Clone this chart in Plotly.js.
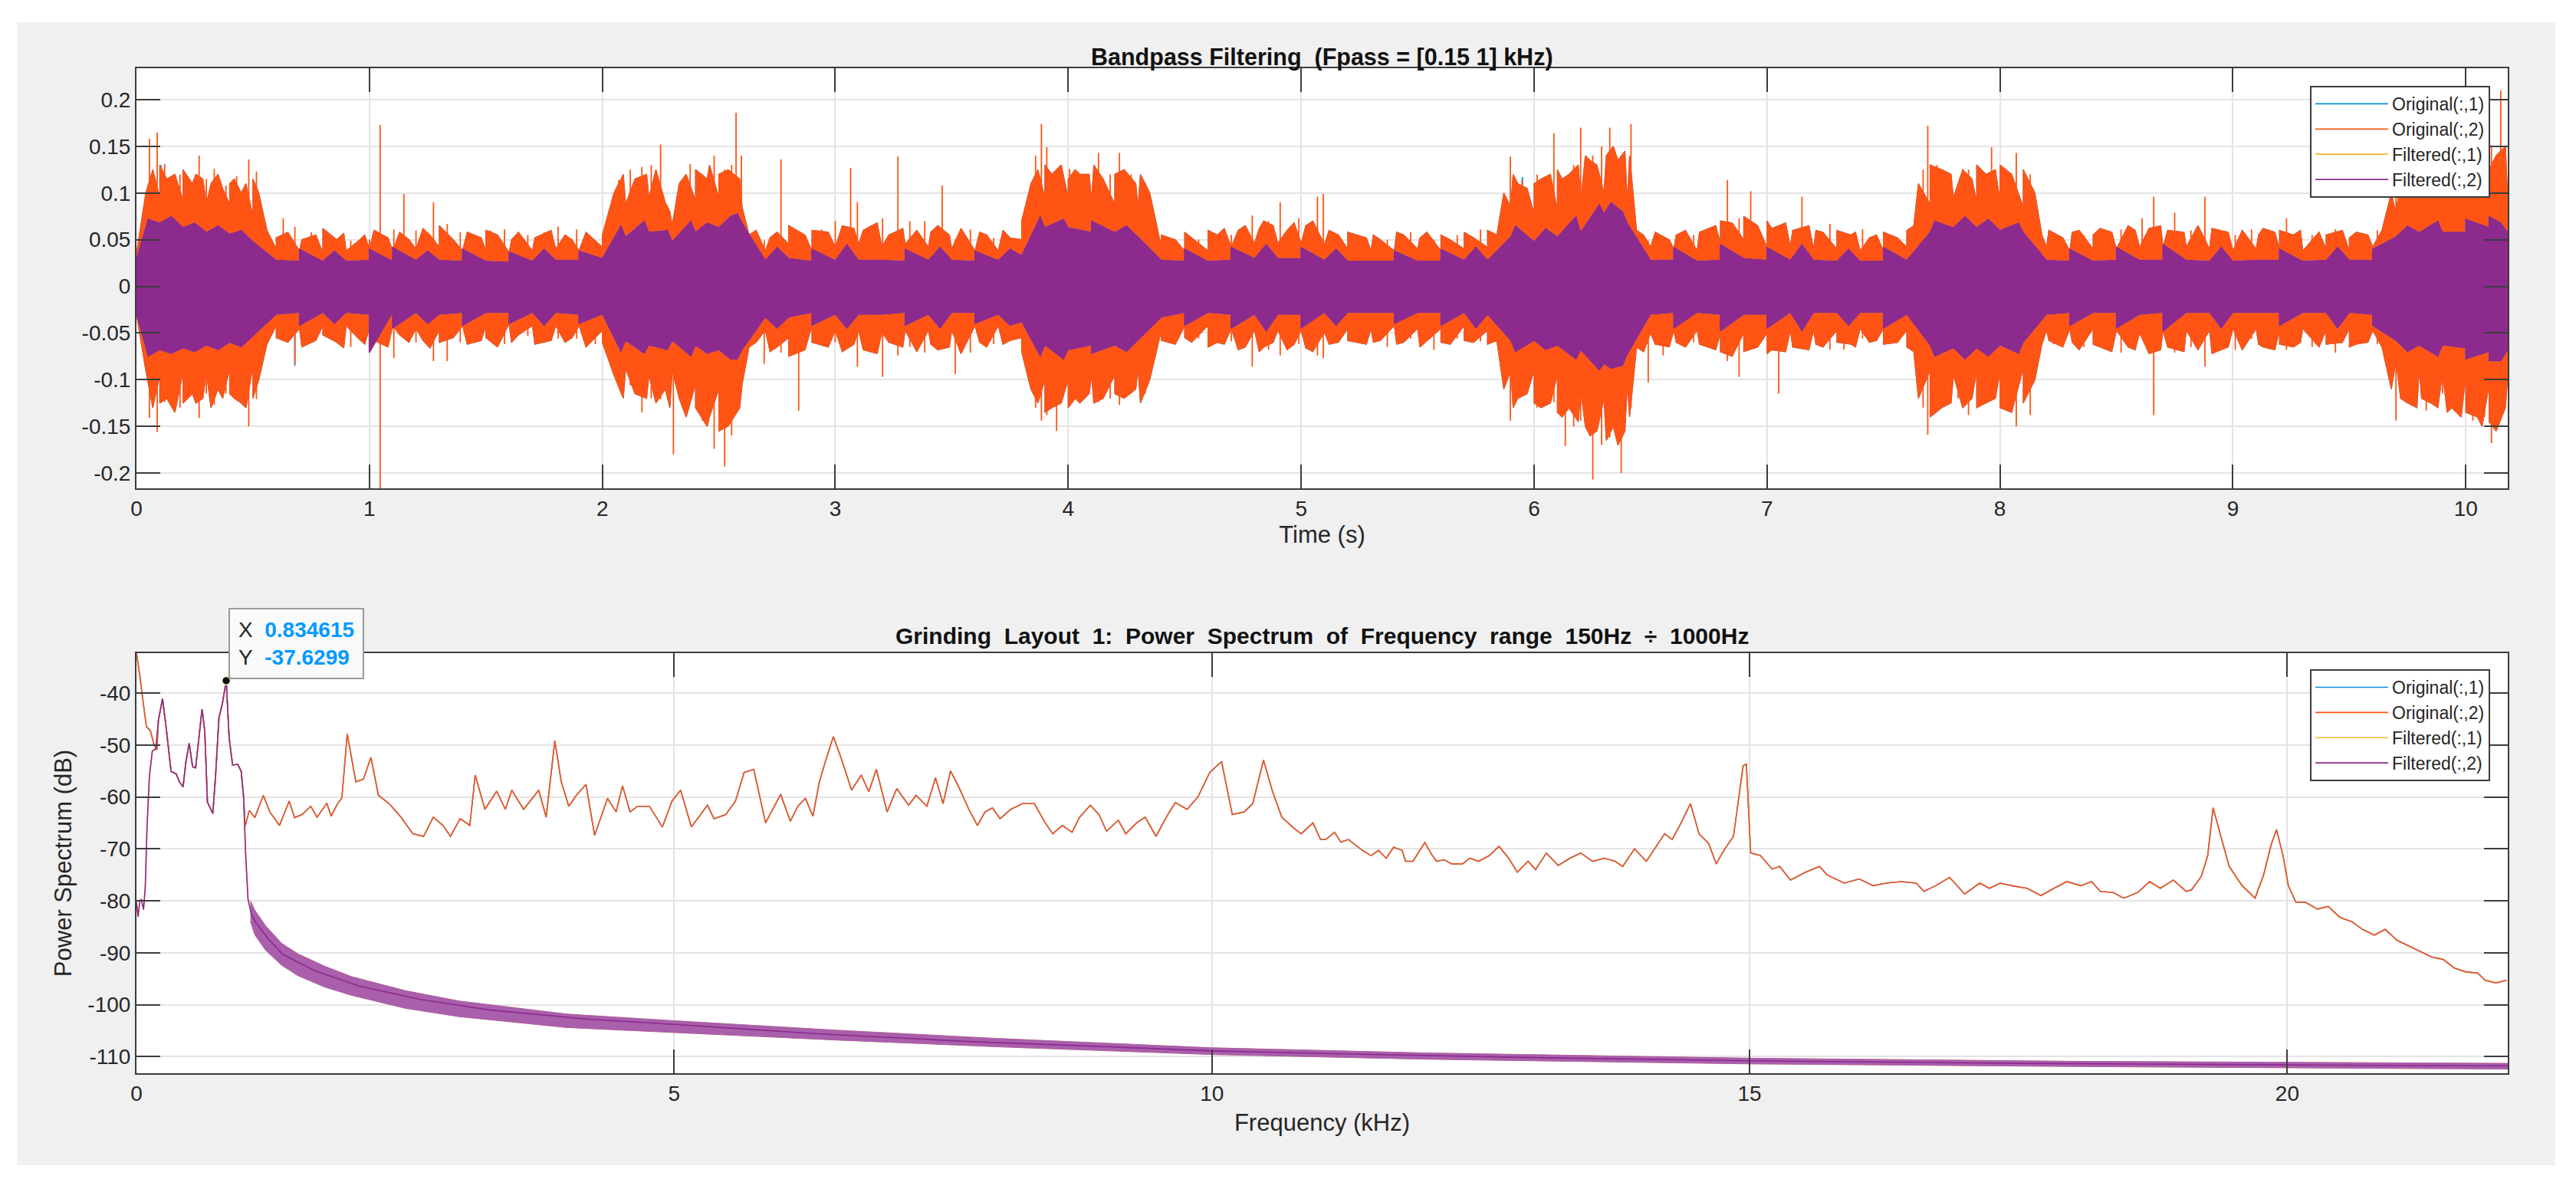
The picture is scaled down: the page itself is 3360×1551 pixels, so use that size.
<!DOCTYPE html>
<html><head><meta charset="utf-8">
<script src="https://cdn.plot.ly/plotly-3.0.1.min.js"></script>
<style>
html,body{margin:0;padding:0;background:#ffffff;width:3360px;height:1551px;overflow:hidden}
#fig{position:absolute;left:22px;top:29px;width:3311px;height:1491px}
</style>
</head><body><div id="fig"></div>
<script>
// ---------------- DATA ----------------
// Top plot: time bins (s) for the dense-core envelopes of the waveforms
const timeBins = [0,0.1,0.2,0.3,0.4,0.5,0.6,0.7,0.8,0.9,
 1.0,1.1,1.2,1.3,1.4,1.5,1.6,1.7,1.8,1.9,
 2.0,2.1,2.2,2.3,2.4,2.5,2.6,2.7,2.8,2.9,
 3.0,3.1,3.2,3.3,3.4,3.5,3.6,3.7,3.8,3.9,
 4.0,4.1,4.2,4.3,4.4,4.5,4.6,4.7,4.8,4.9,
 5.0,5.1,5.2,5.3,5.4,5.5,5.6,5.7,5.8,5.9,
 6.0,6.1,6.2,6.3,6.4,6.5,6.6,6.7,6.8,6.9,
 7.0,7.1,7.2,7.3,7.4,7.5,7.6,7.7,7.8,7.9,
 8.0,8.1,8.2,8.3,8.4,8.5,8.6,8.7,8.8,8.9,
 9.0,9.1,9.2,9.3,9.4,9.5,9.6,9.7,9.8,9.9,
 10.0,10.1,10.18];

// Original(:,2) dense core, upper / lower
const orig2Upper = [0.035,0.095,0.092,0.088,0.088,0.075,0.04,0.038,0.036,0.038,
 0.04,0.038,0.04,0.042,0.038,0.038,0.036,0.038,0.04,0.038,
 0.042,0.088,0.095,0.065,0.092,0.095,0.085,0.038,0.045,0.038,
 0.042,0.045,0.042,0.045,0.042,0.04,0.038,0.038,0.05,0.095,
 0.095,0.092,0.088,0.085,0.042,0.038,0.038,0.042,0.046,0.046,
 0.046,0.045,0.04,0.038,0.038,0.04,0.038,0.04,0.042,0.085,
 0.078,0.082,0.09,0.1,0.09,0.042,0.04,0.038,0.046,0.05,
 0.042,0.042,0.04,0.04,0.038,0.038,0.042,0.088,0.095,0.09,
 0.092,0.085,0.042,0.038,0.04,0.04,0.042,0.042,0.042,0.04,
 0.038,0.04,0.04,0.038,0.04,0.038,0.042,0.078,0.088,0.088,
 0.09,0.095,0.09];
const orig2Lower = [-0.03,-0.095,-0.092,-0.092,-0.088,-0.085,-0.042,-0.045,-0.042,-0.042,
 -0.045,-0.042,-0.045,-0.047,-0.042,-0.042,-0.04,-0.042,-0.042,-0.042,
 -0.047,-0.088,-0.095,-0.09,-0.105,-0.11,-0.105,-0.047,-0.055,-0.042,
 -0.047,-0.047,-0.049,-0.047,-0.047,-0.047,-0.042,-0.042,-0.055,-0.1,
 -0.1,-0.095,-0.095,-0.088,-0.047,-0.042,-0.042,-0.045,-0.047,-0.047,
 -0.047,-0.049,-0.045,-0.045,-0.042,-0.045,-0.045,-0.042,-0.047,-0.09,
 -0.09,-0.095,-0.11,-0.12,-0.105,-0.05,-0.047,-0.047,-0.05,-0.05,
 -0.05,-0.047,-0.047,-0.047,-0.045,-0.045,-0.047,-0.09,-0.095,-0.09,
 -0.092,-0.088,-0.047,-0.045,-0.045,-0.047,-0.05,-0.047,-0.047,-0.047,
 -0.045,-0.045,-0.047,-0.045,-0.047,-0.045,-0.047,-0.08,-0.088,-0.092,
 -0.095,-0.105,-0.095];

// Filtered(:,2) dense core, upper / lower
const filt2Upper = [0.03,0.068,0.063,0.058,0.056,0.048,0.028,0.027,0.027,0.027,
 0.028,0.027,0.028,0.028,0.027,0.027,0.026,0.027,0.028,0.028,
 0.03,0.053,0.058,0.048,0.058,0.063,0.068,0.028,0.03,0.027,
 0.028,0.028,0.028,0.027,0.028,0.028,0.027,0.028,0.033,0.063,
 0.063,0.058,0.058,0.053,0.028,0.027,0.027,0.028,0.03,0.03,
 0.03,0.028,0.027,0.027,0.027,0.027,0.027,0.028,0.028,0.053,
 0.048,0.053,0.058,0.078,0.068,0.028,0.028,0.027,0.028,0.03,
 0.028,0.028,0.028,0.027,0.027,0.027,0.028,0.058,0.063,0.063,
 0.06,0.058,0.028,0.027,0.027,0.028,0.028,0.028,0.028,0.027,
 0.027,0.028,0.028,0.027,0.028,0.028,0.028,0.053,0.058,0.058,
 0.058,0.063,0.058];
const filt2Lower = [-0.03,-0.068,-0.066,-0.063,-0.06,-0.053,-0.03,-0.028,-0.028,-0.028,
 -0.03,-0.028,-0.028,-0.03,-0.028,-0.028,-0.028,-0.028,-0.028,-0.03,
 -0.03,-0.058,-0.063,-0.058,-0.063,-0.068,-0.068,-0.033,-0.033,-0.028,
 -0.03,-0.03,-0.03,-0.028,-0.03,-0.028,-0.028,-0.03,-0.038,-0.063,
 -0.068,-0.063,-0.063,-0.058,-0.033,-0.028,-0.028,-0.03,-0.03,-0.03,
 -0.03,-0.028,-0.028,-0.028,-0.028,-0.028,-0.028,-0.028,-0.03,-0.058,
 -0.058,-0.063,-0.068,-0.083,-0.073,-0.03,-0.028,-0.028,-0.03,-0.03,
 -0.03,-0.028,-0.028,-0.028,-0.028,-0.028,-0.03,-0.063,-0.066,-0.066,
 -0.063,-0.06,-0.03,-0.028,-0.028,-0.028,-0.03,-0.028,-0.028,-0.028,
 -0.028,-0.028,-0.028,-0.028,-0.028,-0.028,-0.03,-0.058,-0.063,-0.063,
 -0.066,-0.07,-0.068];

// Original(:,2) tallest individual spikes: time, top, bottom
const orig2SpikeT = [0.056,0.089,0.121,0.15,0.187,0.22,0.269,0.30,0.334,0.384,0.43,0.482,0.515,
 0.63,0.68,0.75,0.83,0.92,1.0,1.046,1.105,1.148,1.2,1.275,1.334,1.39,1.45,1.52,1.58,1.68,1.75,1.81,1.89,1.97,
 2.07,2.12,2.17,2.21,2.25,2.305,2.345,2.377,2.43,2.48,2.525,2.555,2.574,2.597,
 2.695,2.767,2.843,2.94,3.0,3.066,3.095,3.15,3.203,3.269,3.32,3.384,3.459,3.515,3.58,3.68,3.777,
 3.86,3.885,3.908,3.95,4.006,4.07,4.13,4.18,4.22,4.27,4.33,
 4.43,4.56,4.7,4.79,4.86,4.91,4.99,5.07,5.095,5.24,5.37,5.47,5.57,5.67,5.77,
 5.898,5.948,6.013,6.05,6.085,6.134,6.17,6.2,6.252,6.29,6.325,6.374,6.416,
 6.49,6.554,6.685,6.75,6.83,6.88,6.93,7.05,7.15,7.27,7.33,7.41,7.52,
 7.67,7.69,7.73,7.77,7.82,7.865,7.92,7.964,8.03,8.07,8.13,
 8.23,8.36,8.45,8.52,8.61,8.66,8.75,8.82,8.88,8.95,9.01,9.08,9.15,9.23,9.34,9.44,9.55,9.62,
 9.70,9.77,9.83,9.90,9.96,10.03,10.08,10.11,10.15];
const orig2SpikeHi = [0.158,0.165,0.131,0.115,0.12,0.118,0.14,0.115,0.126,0.108,0.118,0.136,0.123,
 0.073,0.064,0.058,0.055,0.049,0.05,0.173,0.061,0.099,0.06,0.09,0.067,0.058,0.055,0.06,0.061,0.055,0.058,0.064,0.061,0.043,
 0.114,0.125,0.128,0.13,0.152,0.073,0.1,0.131,0.12,0.14,0.125,0.13,0.186,0.14,
 0.049,0.136,0.05,0.061,0.07,0.127,0.09,0.065,0.073,0.139,0.07,0.07,0.108,0.05,0.061,0.052,0.035,
 0.14,0.174,0.149,0.114,0.126,0.114,0.143,0.12,0.143,0.12,0.111,
 0.052,0.05,0.055,0.076,0.07,0.09,0.073,0.096,0.099,0.055,0.05,0.058,0.05,0.055,0.061,
 0.139,0.114,0.12,0.11,0.164,0.105,0.13,0.17,0.14,0.15,0.17,0.134,0.174,
 0.049,0.052,0.055,0.06,0.114,0.073,0.102,0.061,0.096,0.067,0.05,0.061,0.055,
 0.125,0.172,0.13,0.12,0.11,0.125,0.12,0.149,0.12,0.143,0.12,
 0.05,0.055,0.06,0.061,0.073,0.096,0.079,0.06,0.096,0.06,0.055,0.061,0.06,0.073,0.055,0.061,0.055,0.06,
 0.12,0.149,0.12,0.137,0.115,0.125,0.13,0.149,0.21];
const orig2SpikeLo = [-0.141,-0.156,-0.124,-0.118,-0.13,-0.12,-0.141,-0.115,-0.127,-0.115,-0.11,-0.15,-0.121,
 -0.056,-0.083,-0.06,-0.056,-0.065,-0.068,-0.25,-0.077,-0.056,-0.06,-0.08,-0.08,-0.06,-0.056,-0.058,-0.062,-0.053,-0.06,-0.056,-0.056,-0.062,
 -0.1,-0.106,-0.135,-0.12,-0.121,-0.18,-0.13,-0.121,-0.144,-0.174,-0.193,-0.16,-0.115,-0.1,
 -0.083,-0.071,-0.133,-0.056,-0.06,-0.06,-0.086,-0.07,-0.097,-0.074,-0.065,-0.071,-0.056,-0.094,-0.071,-0.062,-0.056,
 -0.13,-0.144,-0.138,-0.155,-0.124,-0.115,-0.124,-0.12,-0.127,-0.115,-0.115,
 -0.05,-0.056,-0.059,-0.086,-0.068,-0.074,-0.062,-0.074,-0.077,-0.056,-0.065,-0.056,-0.068,-0.056,-0.059,
 -0.144,-0.115,-0.13,-0.12,-0.124,-0.171,-0.15,-0.144,-0.207,-0.17,-0.162,-0.2,-0.13,
 -0.103,-0.074,-0.06,-0.06,-0.08,-0.097,-0.056,-0.115,-0.056,-0.068,-0.068,-0.056,-0.059,
 -0.13,-0.159,-0.12,-0.115,-0.12,-0.138,-0.12,-0.115,-0.13,-0.15,-0.138,
 -0.062,-0.065,-0.06,-0.071,-0.056,-0.138,-0.071,-0.065,-0.086,-0.062,-0.068,-0.056,-0.06,-0.068,-0.065,-0.071,-0.059,-0.062,
 -0.144,-0.121,-0.133,-0.115,-0.13,-0.144,-0.14,-0.168,-0.12];

// Original(:,2) local peaks of the ragged fringe around the core: time, top, bottom
const orig2HairT = [0.04,0.07,0.1,0.13,0.165,0.2,0.24,0.255,0.285,0.32,0.35,0.37,0.4,0.42,0.45,0.47,0.5,0.525,
 0.56,0.6,0.65,0.71,0.77,0.8,0.86,0.89,0.95,0.98,1.02,1.08,1.13,1.17,1.23,1.26,1.3,1.36,1.42,1.48,1.5,1.55,1.61,1.64,1.71,1.78,1.84,1.87,1.93,2.0,
 2.05,2.09,2.14,2.19,2.23,2.27,2.29,2.33,2.36,2.4,2.45,2.46,2.5,2.54,2.59,
 2.63,2.66,2.72,2.75,2.8,2.87,2.9,2.97,3.03,3.08,3.12,3.18,3.23,3.29,3.35,3.41,3.44,3.49,3.54,3.62,3.65,3.72,3.75,3.8,
 3.84,3.87,3.9,3.93,3.97,4.0,4.03,4.05,4.09,4.11,4.15,4.2,4.24,4.29,4.31,4.35,
 4.4,4.46,4.5,4.53,4.6,4.64,4.67,4.73,4.76,4.82,4.84,4.88,4.94,4.97,5.02,5.05,5.12,5.16,5.2,5.28,5.31,5.34,5.41,5.44,5.51,5.54,5.6,5.64,5.7,5.74,5.8,5.84,
 5.87,5.91,5.93,5.97,6.0,6.03,6.07,6.1,6.12,6.15,6.19,6.22,6.24,6.27,6.31,6.34,6.36,6.39,6.41,
 6.44,6.47,6.52,6.58,6.61,6.65,6.71,6.78,6.8,6.85,6.9,6.96,7.0,7.02,7.08,7.11,7.18,7.21,7.24,7.3,7.36,7.38,7.44,7.47,7.5,7.56,7.6,7.63,
 7.65,7.7,7.75,7.79,7.84,7.88,7.9,7.94,7.98,8.0,8.05,8.1,8.15,
 8.18,8.21,8.27,8.31,8.34,8.4,8.43,8.48,8.55,8.58,8.64,8.69,8.72,8.79,8.85,8.91,8.98,9.04,9.11,9.13,9.18,9.2,9.26,9.29,9.37,9.4,9.47,9.5,9.53,9.58,9.64,
 9.68,9.72,9.75,9.79,9.81,9.85,9.88,9.92,9.94,9.98,10.0,10.05,10.07,10.1,10.13,10.17];
const orig2HairHi = [0.1,0.125,0.13,0.115,0.12,0.125,0.11,0.12,0.115,0.11,0.12,0.105,0.11,0.115,0.1,0.11,0.115,0.1,
 0.06,0.052,0.058,0.05,0.055,0.062,0.05,0.057,0.048,0.055,0.06,0.052,0.058,0.05,0.062,0.055,0.065,0.05,0.058,0.052,0.06,0.055,0.05,0.058,0.052,0.06,0.055,0.05,0.058,0.055,
 0.1,0.12,0.115,0.12,0.125,0.09,0.08,0.11,0.12,0.125,0.115,0.13,0.12,0.125,0.115,
 0.055,0.06,0.052,0.058,0.065,0.055,0.06,0.058,0.065,0.062,0.06,0.068,0.055,0.062,0.06,0.058,0.065,0.055,0.062,0.058,0.055,0.06,0.052,0.07,
 0.11,0.125,0.13,0.12,0.13,0.115,0.125,0.12,0.12,0.13,0.115,0.12,0.125,0.11,0.12,0.1,
 0.055,0.05,0.058,0.052,0.06,0.055,0.062,0.06,0.065,0.062,0.07,0.065,0.06,0.068,0.065,0.07,0.06,0.055,0.058,0.052,0.055,0.05,0.058,0.055,0.052,0.058,0.055,0.05,0.058,0.052,0.06,0.055,
 0.1,0.12,0.11,0.105,0.11,0.115,0.12,0.125,0.115,0.12,0.13,0.14,0.135,0.13,0.14,0.15,0.135,0.145,0.14,
 0.06,0.055,0.058,0.05,0.055,0.06,0.058,0.065,0.07,0.068,0.075,0.065,0.07,0.062,0.068,0.06,0.065,0.06,0.058,0.06,0.055,0.058,0.052,0.055,0.058,0.052,0.06,0.065,
 0.11,0.13,0.125,0.12,0.125,0.115,0.13,0.12,0.125,0.13,0.12,0.125,0.1,
 0.055,0.06,0.052,0.058,0.06,0.055,0.062,0.058,0.065,0.06,0.062,0.065,0.06,0.058,0.065,0.062,0.058,0.06,0.055,0.062,0.058,0.06,0.055,0.06,0.058,0.055,0.06,0.052,0.058,0.055,0.06,
 0.1,0.115,0.12,0.125,0.115,0.12,0.125,0.13,0.12,0.125,0.13,0.12,0.135,0.125,0.14,0.15];
const orig2HairLo = [-0.09,-0.13,-0.125,-0.12,-0.135,-0.125,-0.115,-0.125,-0.12,-0.13,-0.11,-0.12,-0.115,-0.12,-0.125,-0.13,-0.12,-0.1,
 -0.062,-0.055,-0.06,-0.065,-0.058,-0.052,-0.06,-0.066,-0.055,-0.062,-0.058,-0.065,-0.052,-0.06,-0.058,-0.066,-0.06,-0.055,-0.062,-0.058,-0.055,-0.065,-0.06,-0.052,-0.062,-0.058,-0.06,-0.055,-0.065,-0.06,
 -0.095,-0.12,-0.115,-0.12,-0.125,-0.11,-0.13,-0.12,-0.14,-0.13,-0.15,-0.14,-0.155,-0.15,-0.13,
 -0.065,-0.06,-0.07,-0.065,-0.075,-0.068,-0.06,-0.065,-0.07,-0.062,-0.068,-0.072,-0.06,-0.065,-0.07,-0.062,-0.068,-0.065,-0.072,-0.06,-0.065,-0.062,-0.058,-0.07,
 -0.11,-0.125,-0.135,-0.13,-0.125,-0.13,-0.12,-0.125,-0.115,-0.125,-0.12,-0.115,-0.12,-0.11,-0.125,-0.1,
 -0.058,-0.062,-0.055,-0.06,-0.065,-0.06,-0.062,-0.068,-0.065,-0.07,-0.065,-0.06,-0.068,-0.062,-0.066,-0.07,-0.062,-0.06,-0.058,-0.062,-0.06,-0.058,-0.062,-0.06,-0.065,-0.058,-0.06,-0.062,-0.058,-0.06,-0.062,-0.058,
 -0.11,-0.13,-0.12,-0.115,-0.125,-0.13,-0.125,-0.135,-0.14,-0.13,-0.145,-0.15,-0.16,-0.155,-0.165,-0.15,-0.17,-0.155,-0.14,
 -0.065,-0.07,-0.062,-0.065,-0.06,-0.065,-0.062,-0.068,-0.07,-0.075,-0.07,-0.065,-0.072,-0.068,-0.07,-0.065,-0.068,-0.062,-0.065,-0.06,-0.062,-0.065,-0.06,-0.058,-0.062,-0.06,-0.065,-0.07,
 -0.12,-0.14,-0.13,-0.125,-0.13,-0.12,-0.13,-0.125,-0.12,-0.13,-0.135,-0.125,-0.1,
 -0.062,-0.058,-0.065,-0.06,-0.068,-0.062,-0.065,-0.07,-0.065,-0.068,-0.072,-0.068,-0.065,-0.07,-0.068,-0.072,-0.065,-0.068,-0.062,-0.065,-0.068,-0.062,-0.065,-0.06,-0.065,-0.062,-0.06,-0.065,-0.062,-0.06,-0.065,
 -0.11,-0.12,-0.125,-0.13,-0.12,-0.125,-0.13,-0.135,-0.13,-0.14,-0.135,-0.14,-0.15,-0.145,-0.155,-0.13];

// Original(:,1): spikes visible past the channel-2 trace (its core lies under channel 2)
const orig1SpikeT  = [0.105,0.68,4.33,5.95,8.86];
const orig1SpikeHi = [0.13,0.04,0.111,0.117,0.04];
const orig1SpikeLo = [-0.05,-0.085,-0.04,-0.05,-0.06];

// Filtered(:,2) local peaks beyond its core
const filt2SpikeT = [0.05,0.15,0.25,0.35,0.45, 0.7,0.85,1.0,1.1,1.25,1.4,1.6,1.75,1.9,
 2.08,2.18,2.28,2.38,2.45,2.55,2.58, 2.75,2.9,3.05,3.3,3.45,3.6,3.75,
 3.88,3.98,4.1,4.25, 4.5,4.7,4.85,5.0,5.15,5.4,5.6,5.75,
 5.92,6.05,6.18,6.28,6.33,6.38, 6.6,6.8,7.0,7.15,7.35,7.5,
 7.72,7.85,7.95,8.08, 8.3,8.5,8.7,8.95,9.2,9.45,9.6, 9.75,9.88,10.0,10.1,10.15];
const filt2SpikeHi = [0.072,0.075,0.068,0.065,0.06, 0.04,0.038,0.04,0.042,0.038,0.04,0.037,0.04,0.038,
 0.065,0.07,0.06,0.07,0.068,0.075,0.078, 0.042,0.04,0.045,0.04,0.042,0.038,0.04,
 0.075,0.072,0.07,0.065, 0.04,0.042,0.045,0.042,0.04,0.038,0.04,0.042,
 0.065,0.062,0.075,0.088,0.09,0.08, 0.042,0.045,0.042,0.045,0.04,0.042,
 0.07,0.075,0.072,0.068, 0.04,0.042,0.045,0.042,0.04,0.042,0.04, 0.065,0.07,0.072,0.075,0.068];
const filt2SpikeLo = [-0.075,-0.072,-0.07,-0.068,-0.065, -0.042,-0.04,-0.071,-0.045,-0.04,-0.042,-0.04,-0.042,-0.04,
 -0.07,-0.072,-0.068,-0.075,-0.072,-0.078,-0.078, -0.045,-0.042,-0.045,-0.042,-0.045,-0.04,-0.042,
 -0.075,-0.078,-0.072,-0.07, -0.042,-0.045,-0.048,-0.045,-0.042,-0.04,-0.042,-0.045,
 -0.07,-0.068,-0.078,-0.09,-0.088,-0.085, -0.045,-0.048,-0.045,-0.048,-0.042,-0.045,
 -0.075,-0.078,-0.075,-0.072, -0.042,-0.045,-0.048,-0.045,-0.042,-0.045,-0.042, -0.07,-0.075,-0.078,-0.08,-0.08];

// Bottom plot: power spectrum of Original(:,2) (kHz, dB)
const specFreqOrig = [0,0.03,0.066,0.093,0.13,0.16,0.19,0.204,0.242,0.274,0.322,0.37,0.40,0.433,0.46,0.49,0.522,0.55,0.58,0.61,0.635,0.66,0.71,0.735,0.767,0.80,0.834615,0.862,0.894,0.942,0.974,0.996,
 1.01,1.05,1.1,1.18,1.24,1.33,1.42,1.47,1.54,1.62,1.68,1.77,1.81,1.87,1.91,1.96,2.04,2.11,2.18,2.25,2.35,2.46,2.57,2.67,2.76,2.85,2.92,3.01,3.1,3.15,3.24,3.35,3.43,3.49,3.6,3.74,3.81,3.89,3.95,
 4.02,4.09,4.18,4.26,4.38,4.46,4.52,4.59,4.66,4.77,4.89,4.98,5.06,5.16,5.31,5.37,5.48,5.57,5.65,5.74,5.85,5.99,6.08,6.15,6.22,6.29,6.35,6.41,6.48,6.55,6.65,6.74,6.81,6.88,6.98,
 7.07,7.18,7.25,7.35,7.43,7.5,7.57,7.66,7.74,7.82,7.89,7.96,8.03,8.13,8.24,8.35,8.45,8.52,8.61,8.70,8.77,8.87,8.95,9.02,9.13,9.2,9.3,9.38,9.48,9.59,9.66,9.77,9.87,9.98,
 10.09,10.19,10.3,10.38,10.48,10.56,10.65,10.76,10.83,10.94,11.01,11.06,11.14,11.2,11.27,11.4,11.48,11.55,11.62,11.69,11.77,11.8,11.87,11.98,12.05,12.09,12.16,12.23,12.33,12.4,12.48,12.58,12.67,12.76,12.84,12.94,
 13.01,13.11,13.22,13.33,13.43,13.54,13.65,13.75,13.82,13.93,14.04,14.14,14.21,14.28,14.35,14.45,14.53,14.62,14.69,14.76,14.85,14.94,14.97,15.01,15.1,15.21,15.28,15.38,15.52,15.65,15.72,15.88,
 16.02,16.15,16.27,16.41,16.55,16.62,16.73,16.86,17.0,17.14,17.23,17.33,17.44,17.58,17.71,17.83,17.95,18.08,18.18,18.26,18.38,18.48,18.61,18.72,18.82,18.94,19.06,19.11,19.2,19.26,19.31,19.39,19.46,19.58,19.7,19.78,19.85,19.9,19.96,
 20.01,20.08,20.17,20.28,20.38,20.49,20.6,20.7,20.81,20.91,21.02,21.13,21.23,21.34,21.45,21.55,21.66,21.77,21.84,21.94,22.04];
const specDbOrig = [-32.3,-36.5,-42.4,-46.5,-47.3,-49.7,-51.0,-45.3,-41.1,-46.3,-55.1,-55.6,-57.1,-58.1,-53.2,-49.7,-54.2,-54.4,-48.7,-43.1,-47.3,-61,-63.2,-56.1,-44.8,-41.9,-37.6299,-48.7,-53.9,-53.7,-55.1,-60.0,
 -65.6,-62.6,-64,-59.7,-62.9,-65.5,-60.8,-64,-63.4,-61.8,-63.9,-61.2,-63.7,-61.3,-60.2,-47.9,-57.1,-56.6,-52.4,-59.7,-61.3,-63.9,-67.1,-67.6,-63.9,-65.5,-67.6,-64.2,-65.5,-55.8,-62.4,-58.9,-62.4,-58.7,-62.4,-58.7,-63.9,-49.2,-57.1,
 -61.8,-59.7,-57.6,-67.4,-60.3,-62.9,-57.9,-62.9,-61.8,-61.8,-65.8,-60.8,-58.7,-65.8,-61.6,-64.2,-63.4,-60.8,-55.3,-54.7,-65.0,-59.5,-64.7,-61.8,-60.3,-63.7,-57.1,-52.9,-48.4,-52.4,-58.7,-55.8,-59,-54.7,-62.9,
 -58.4,-61.6,-59.7,-61.8,-56.3,-61.3,-55,-58.7,-62.4,-65.5,-62.9,-62.1,-64.2,-62.4,-61.3,-61.3,-65,-67.1,-65.5,-66.8,-63.9,-61.6,-63.4,-66.6,-64.5,-67.1,-65,-63.9,-67.6,-63.4,-61.1,-62.4,-60,-55.3,
 -53.2,-63.4,-62.9,-61.3,-52.9,-58.7,-63.9,-66,-67.1,-65,-68.2,-68.2,-66.8,-68.7,-68.2,-70.3,-71.3,-70.3,-71.8,-69.7,-70.3,-72.4,-72.4,-68.8,-71.3,-72.4,-72.1,-72.9,-72.9,-71.8,-72.4,-71.3,-69.5,-71.8,-74.5,-72.4,
 -74,-70.8,-73.2,-71.8,-70.8,-72.4,-71.8,-72.4,-73.4,-70,-72.4,-69.2,-67.1,-68.2,-65.5,-61.3,-67.1,-69,-72.9,-70.3,-67.6,-54,-53.7,-70.8,-71.3,-73.9,-73.4,-76,-74.5,-73.4,-75,-76.6,
 -75.8,-77.1,-76.6,-76.3,-76.6,-78.2,-77.1,-75.5,-78.7,-76.6,-77.6,-76.6,-77.1,-77.6,-79,-77.6,-76.3,-77.1,-76.3,-78.2,-78.4,-79.5,-78.4,-76.3,-77.6,-76,-78.2,-77.9,-75.3,-71.3,-62.1,-68.2,-73.4,-77.1,-79.5,-75,-69.2,-66.3,-71.3,
 -77.1,-80.3,-80.3,-81.6,-81.1,-83.2,-84,-85.5,-86.6,-85.5,-87.6,-88.7,-89.7,-90.8,-91.3,-92.9,-93.7,-93.9,-95.3,-95.8,-95.3];

// Power spectrum of Filtered(:,2)
const specFreqFilt = [0,0.015,0.03,0.045,0.066,0.082,0.098,0.12,0.147,0.18,0.204,0.242,0.274,0.322,0.37,0.40,0.433,0.46,0.49,0.522,0.55,0.58,0.61,0.635,0.66,0.71,0.735,0.767,0.80,0.834615,0.862,0.894,0.942,0.974,0.996,
 1.015,1.037,1.07,1.11,1.22,1.36,1.65,2.07,2.64,3.28,4.2,5.0,6.33,7.74,9.16,10.0,11.06,13.0,15.0,17.5,20.0,22.05];
const specDbFilt = [-80.2,-83.1,-80.2,-79.7,-81.7,-77.2,-65.9,-56.1,-51.2,-50.7,-45.3,-41.1,-46.3,-55.1,-55.6,-57.1,-58.1,-53.2,-49.7,-54.2,-54.4,-48.7,-43.1,-47.3,-61,-63.2,-56.1,-44.8,-41.9,-37.6299,-48.7,-53.9,-53.7,-55.1,-60.0,
 -70.9,-79.7,-82.7,-84.2,-87.2,-90.3,-93.4,-96.4,-99.0,-101.0,-102.8,-103.8,-105.6,-107.1,-108.2,-108.9,-109.4,-110.2,-110.8,-111.3,-111.6,-111.8];
// ripple envelope of the filtered stop band (upper / lower edge)
const rippleFreq = [1.06,1.1,1.2,1.35,1.5,1.75,2.0,2.5,3.0,4.0,5.0,6.5,8.0,10.0,12.0,15.0,18.0,20.0,22.05];
const rippleHi = [-80,-81.8,-84.8,-88.2,-90.2,-92.6,-94.6,-97.3,-99.3,-101.8,-103.1,-104.9,-106.5,-108.3,-109.3,-110.3,-110.9,-111.1,-111.3];
const rippleLo = [-84,-86.5,-89.5,-92.4,-94.4,-96.6,-98.2,-100.7,-102.3,-104.4,-105.4,-106.8,-108.1,-109.6,-110.5,-111.4,-111.9,-112.2,-112.4];

// Data tip
const tipX = [0.834615];
const tipY = [-37.6299];

// Tick labels
const timeTicks = [0,1,2,3,4,5,6,7,8,9,10];
const timeTickText = ['0','1','2','3','4','5','6','7','8','9','10'];
const ampTicks = [-0.2,-0.15,-0.1,-0.05,0,0.05,0.1,0.15,0.2];
const ampTickText = ['-0.2','-0.15','-0.1','-0.05','0','0.05','0.1','0.15','0.2'];
const freqTicks = [0,5,10,15,20];
const freqTickText = ['0','5','10','15','20'];
const dbTicks = [-110,-100,-90,-80,-70,-60,-50,-40];
const dbTickText = ['-110','-100','-90','-80','-70','-60','-50','-40'];

const seriesNames = ['Original(:,1)','Original(:,2)','Filtered(:,1)','Filtered(:,2)'];
const seriesColors = ['#0a8fdc','#ff5414','#ffb52e','#8c2a8e'];
const rippleColors = ['#ffcf70','#a95fac'];

// ---------------- helpers ----------------
function spikes(ts, his, los){ const x=[],y=[]; for(let i=0;i<ts.length;i++){x.push(ts[i],ts[i],null);y.push(his[i],los[i],null);} return {x,y}; }
function band(xs, hi, lo){ return {x: xs.concat(xs.slice().reverse()), y: hi.concat(lo.slice().reverse())}; }
// merge two sets of read envelope points (core bins + local peaks), ordered by time
function merged(t1, v1, t2, v2){
  const p = t1.map((t,i)=>[t,v1[i]]).concat(t2.map((t,i)=>[t,v2[i]]));
  p.sort((a,b)=>a[0]-b[0]);
  return {t:p.map(q=>q[0]), v:p.map(q=>q[1])};
}
function raggedBand(tc, up, lo, tp, pu, pl){
  const U = merged(tc, up, tp, pu), L = merged(tc, lo, tp, pl);
  return {x: U.t.concat(L.t.slice().reverse()), y: U.v.concat(L.v.slice().reverse())};
}

const FONT = 'Liberation Sans, Arial, Helvetica, sans-serif';
const traces = [];

function coreTrace(b, color, grp){
  return {type:'scatter', mode:'lines', x:b.x, y:b.y, fill:'toself', fillcolor:color,
    line:{color:color, width:1.2}, hoverinfo:'skip', showlegend:false, legendgroup:grp, xaxis:'x', yaxis:'y'};
}
function strandTrace(s, color, name, grp, show, w){
  return {type:'scatter', mode:'lines', x:s.x, y:s.y, connectgaps:false, name:name,
    line:{color:color, width:w}, hoverinfo:'skip', legendgroup:grp, showlegend:show, legend:'legend', xaxis:'x', yaxis:'y'};
}
// top plot (channel 1 core coincides with channel 2 core in the picture)
const origCore = raggedBand(timeBins, orig2Upper, orig2Lower, orig2HairT, orig2HairHi, orig2HairLo);
const filtCore = raggedBand(timeBins, filt2Upper, filt2Lower, filt2SpikeT, filt2SpikeHi, filt2SpikeLo);
const filtStr = spikes(filt2SpikeT, filt2SpikeHi, filt2SpikeLo);
traces.push(coreTrace(origCore, seriesColors[0], 'o1'));
traces.push(strandTrace(spikes(orig1SpikeT, orig1SpikeHi, orig1SpikeLo), seriesColors[0], seriesNames[0], 'o1', true, 1.8));
traces.push(coreTrace(origCore, seriesColors[1], 'o2'));
traces.push(strandTrace(spikes(orig2SpikeT, orig2SpikeHi, orig2SpikeLo), seriesColors[1], seriesNames[1], 'o2', true, 1.8));
traces.push(coreTrace(filtCore, seriesColors[2], 'f1'));
traces.push(strandTrace(filtStr, seriesColors[2], seriesNames[2], 'f1', true, 1.8));
traces.push(coreTrace(filtCore, seriesColors[3], 'f2'));
traces.push(strandTrace(filtStr, seriesColors[3], seriesNames[3], 'f2', true, 1.8));

// bottom plot
const ripple = band(rippleFreq, rippleHi, rippleLo);
function specLine(x, y, color, name, grp, w){
  return {type:'scatter', mode:'lines', x:x, y:y, name:name, line:{color:color, width:w},
    hoverinfo:'skip', legendgroup:grp, legend:'legend2', xaxis:'x2', yaxis:'y2'};
}
function rippleTrace(color, grp){
  return {type:'scatter', mode:'lines', x:ripple.x, y:ripple.y, fill:'toself', fillcolor:color,
    line:{color:color, width:1}, hoverinfo:'skip', showlegend:false, legendgroup:grp, xaxis:'x2', yaxis:'y2'};
}
traces.push(specLine(specFreqOrig, specDbOrig, seriesColors[0], seriesNames[0], 'b1', 1.6));
traces.push(specLine(specFreqOrig, specDbOrig, seriesColors[1], seriesNames[1], 'b2', 1.6));
traces.push(rippleTrace(rippleColors[0], 'b3'));
traces.push(specLine(specFreqFilt, specDbFilt, seriesColors[2], seriesNames[2], 'b3', 1.6));
traces.push(rippleTrace(rippleColors[1], 'b4'));
traces.push(specLine(specFreqFilt, specDbFilt, seriesColors[3], seriesNames[3], 'b4', 1.6));
traces.push({type:'scatter', mode:'markers', x:tipX, y:tipY, showlegend:false, hoverinfo:'skip',
  marker:{size:11, color:'#111111', line:{color:'#ffffc8', width:1.5}}, xaxis:'x2', yaxis:'y2'});

const axBase = {
  showline:true, linecolor:'#3c3c3c', linewidth:2, mirror:'allticks',
  ticks:'inside', ticklen:31, tickwidth:2, tickcolor:'#3c3c3c',
  showgrid:true, gridcolor:'#e4e4e4', gridwidth:2, zeroline:false,
  tickfont:{family:FONT, size:28, color:'#262626'}, fixedrange:true
};
const legBase = {xanchor:'left', yanchor:'top', bgcolor:'#ffffff', bordercolor:'#3c3c3c', borderwidth:2,
  font:{family:FONT, size:23, color:'#262626'}, itemwidth:95, tracegroupgap:0};

const layout = {
  width:3311, height:1491,
  paper_bgcolor:'#f0f0f0', plot_bgcolor:'#ffffff',
  margin:{l:156, r:62, t:60, b:120, pad:0},
  font:{family:FONT, size:28, color:'#262626'},
  showlegend:true,
  xaxis: Object.assign({}, axBase, {domain:[0,1], anchor:'y', range:[0,10.18], tickvals:timeTicks, ticktext:timeTickText,
    title:{text:'Time (s)', font:{family:FONT, size:31, color:'#262626'}, standoff:9}}),
  yaxis: Object.assign({}, axBase, {domain:[0.582,1], anchor:'x', range:[-0.2164,0.2337], tickvals:ampTicks, ticktext:ampTickText}),
  xaxis2: Object.assign({}, axBase, {domain:[0,1], anchor:'y2', range:[0,22.05], tickvals:freqTicks, ticktext:freqTickText,
    title:{text:'Frequency (kHz)', font:{family:FONT, size:31, color:'#262626'}, standoff:13}}),
  yaxis2: Object.assign({}, axBase, {domain:[0,0.418], anchor:'x2', range:[-113.2,-32.33], tickvals:dbTicks, ticktext:dbTickText,
    title:{text:'Power Spectrum (dB)', font:{family:FONT, size:31, color:'#262626'}, standoff:12}}),
  legend: Object.assign({}, legBase, {x:0.9166, y:0.9825}),
  legend2: Object.assign({}, legBase, {x:0.9166, y:0.402}),
  annotations:[
    {xref:'paper', yref:'paper', x:0.5, y:1.0114, xanchor:'center', yanchor:'middle', showarrow:false,
     text:'<b>Bandpass Filtering\u00a0 (Fpass = [0.15 1] kHz)</b>', font:{family:FONT, size:30.5, color:'#111111'}},
    {xref:'paper', yref:'paper', x:0.5, y:0.4355, xanchor:'center', yanchor:'middle', showarrow:false,
     text:'<b>Grinding\u00a0 Layout\u00a0 1:\u00a0 Power\u00a0 Spectrum\u00a0 of\u00a0 Frequency\u00a0 range\u00a0 150Hz\u00a0 \u00f7\u00a0 1000Hz</b>',
     font:{family:FONT, size:30, color:'#111111'}},
    {xref:'x2', yref:'y2', x:tipX[0], y:tipY[0], xanchor:'left', yanchor:'bottom', xshift:3, yshift:2, showarrow:false,
     align:'left', bgcolor:'#fafafa', bordercolor:'#9a9a9a', borderwidth:2, borderpad:11,
     text:'X\u00a0 <b><span style="color:#0099ff">'+String(tipX[0])+'</span></b><br>Y\u00a0 <b><span style="color:#0099ff">'+String(tipY[0])+'</span></b>',
     font:{family:FONT, size:28, color:'#262626'}}
  ]
};

Plotly.newPlot('fig', traces, layout, {staticPlot:true, displayModeBar:false});
</script></body></html>
